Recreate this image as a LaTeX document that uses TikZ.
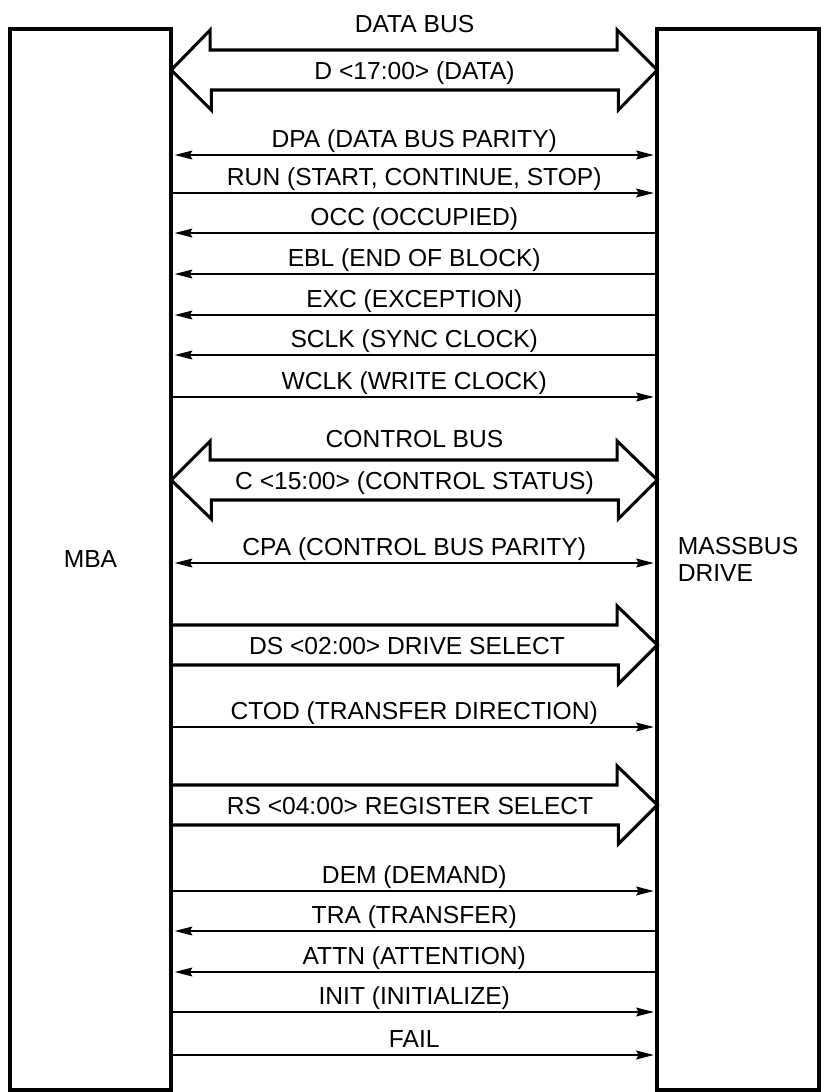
\documentclass[tikz,border=0pt]{standalone}
\usepackage{fontspec}
\setmainfont{Liberation Sans}
\usepackage{tikz}
\usetikzlibrary{arrows.meta,positioning,calc}
\newcommand{\busfont}{\fontsize{21}{22.5}\selectfont}

\begin{document}
\begin{tikzpicture}[
    x=0.03cm,y=-0.03cm,
    >={Stealth[length=15pt,width=7.5pt,inset=2pt,sep=3pt]},
    unit/.style={draw=black,line width=3.4pt,outer sep=0pt,font=\busfont,
      minimum width=4.84cm,minimum height=31.83cm,align=left},
    signal/.style={draw=black,line width=1.6pt},
    bus/.style={draw=black,line width=2.6pt,line join=miter},
    siglabel/.style={font=\busfont,anchor=base,yshift=6pt,inner sep=0pt},
    buslabel/.style={font=\busfont,anchor=base,inner sep=0pt}
  ]
    \useasboundingbox (0,0) rectangle (824,1092);

    % The adapter and the drive on either side.
    \node[unit] (mba) at (90.5,559.5) {MBA};
    \node[unit] (drive) at (738,559.5) {MASSBUS\\DRIVE};

    % Data bus: wide double arrow.
    \node[buslabel] (databus) at (414.5,32) {DATA BUS};
    \draw[bus] (mba.east |- 0,70) -- ++(39,-40) -- ++(0,20) -- ++(407,0)
      -- ++(0,-20) -- (drive.west |- 0,70) -- ++(-39,40) -- ++(0,-20)
      -- ++(-407,0) -- ++(0,20) -- cycle;
    \node[buslabel] (data) at (414.5,79) {D <17:00> (DATA)};

    % Data transfer control lines.
    \draw[signal,<->] (mba.east |- 0,155) -- node[siglabel] (dpa) {DPA (DATA BUS PARITY)} (drive.west |- 0,155);
    \draw[signal,->] (mba.east |- 0,193) -- node[siglabel] (run) {RUN (START, CONTINUE, STOP)} (drive.west |- 0,193);
    \draw[signal,<-] (mba.east |- 0,233) -- node[siglabel] (occ) {OCC (OCCUPIED)} (drive.west |- 0,233);
    \draw[signal,<-] (mba.east |- 0,274) -- node[siglabel] (ebl) {EBL (END OF BLOCK)} (drive.west |- 0,274);
    \draw[signal,<-] (mba.east |- 0,315) -- node[siglabel] (exc) {EXC (EXCEPTION)} (drive.west |- 0,315);
    \draw[signal,<-] (mba.east |- 0,355) -- node[siglabel] (sclk) {SCLK (SYNC CLOCK)} (drive.west |- 0,355);
    \draw[signal,->] (mba.east |- 0,397) -- node[siglabel] (wclk) {WCLK (WRITE CLOCK)} (drive.west |- 0,397);

    % Control bus: wide double arrow.
    \node[buslabel] (ctrlbus) at (414.5,447) {CONTROL BUS};
    \draw[bus] (mba.east |- 0,480) -- ++(39,-39) -- ++(0,19) -- ++(407,0)
      -- ++(0,-19) -- (drive.west |- 0,480) -- ++(-39,39) -- ++(0,-19)
      -- ++(-407,0) -- ++(0,19) -- cycle;
    \node[buslabel] (ctrl) at (414.5,489) {C <15:00> (CONTROL STATUS)};
    \draw[signal,<->] (mba.east |- 0,563) -- node[siglabel] (cpa) {CPA (CONTROL BUS PARITY)} (drive.west |- 0,563);

    % Drive select, one way only.
    \draw[bus] (mba.east |- 0,625) -- ++(446,0) -- ++(0,-19)
      -- (drive.west |- 0,645) -- ++(-39,39) -- ++(0,-19) -- (mba.east |- 0,665);
    \node[buslabel] (ds) at (407,654) {DS <02:00> DRIVE SELECT};
    \draw[signal,->] (mba.east |- 0,727) -- node[siglabel] (ctod) {CTOD (TRANSFER DIRECTION)} (drive.west |- 0,727);

    % Register select, one way only.
    \draw[bus] (mba.east |- 0,785) -- ++(446,0) -- ++(0,-19)
      -- (drive.west |- 0,805) -- ++(-39,39) -- ++(0,-19) -- (mba.east |- 0,825);
    \node[buslabel] (rs) at (410,814) {RS <04:00> REGISTER SELECT};

    % Remaining control lines.
    \draw[signal,->] (mba.east |- 0,891) -- node[siglabel] (dem) {DEM (DEMAND)} (drive.west |- 0,891);
    \draw[signal,<-] (mba.east |- 0,931) -- node[siglabel] (tra) {TRA (TRANSFER)} (drive.west |- 0,931);
    \draw[signal,<-] (mba.east |- 0,972) -- node[siglabel] (attn) {ATTN (ATTENTION)} (drive.west |- 0,972);
    \draw[signal,->] (mba.east |- 0,1012) -- node[siglabel] (init) {INIT (INITIALIZE)} (drive.west |- 0,1012);
    \draw[signal,->] (mba.east |- 0,1055) -- node[siglabel] (fail) {FAIL} (drive.west |- 0,1055);
  \end{tikzpicture}
\end{document}
